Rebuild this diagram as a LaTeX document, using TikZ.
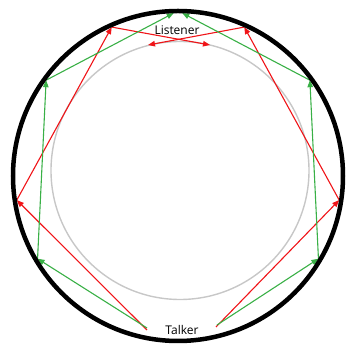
\documentclass[tikz,border=0pt]{standalone}
\usepackage{fontspec}
\setmainfont{Open Sans}
\usetikzlibrary{arrows.meta}

\definecolor{rayred}{RGB}{240,20,24}
\definecolor{raygreen}{RGB}{57,176,70}
\tikzset{
  wall/.style={line width=4.5pt, black},
  inner/.style={line width=1.4pt, black!22},
  redray/.style={line width=1.1pt, rayred, -{Triangle[length=7pt,width=5.5pt]}},
  greenray/.style={line width=1.1pt, raygreen, -{Triangle[length=7pt,width=5.5pt]}},
  label/.style={font=\fontsize{12}{14}\selectfont, text=black, inner sep=0pt}
}

\begin{document}
\begin{tikzpicture}[x=1pt,y=1pt]
        \useasboundingbox (0,0) rectangle (349,347);
        % centres
        \coordinate (O) at (178,171);
        \coordinate (G) at (180,176.5);
        % talker and listener points
        \coordinate (TRl) at (147,17);
        \coordinate (TGl) at (147,19);
        \coordinate (TRr) at (216,20);
        \coordinate (TGr) at (217,22);
        \coordinate (LisL) at (148,302);
        \coordinate (LisR) at (210,302);
        % reflection points on the wall
        \path (O) ++(188.5:163) coordinate (RL1);
        \path (O) ++(114:163) coordinate (RL2);
        \path (O) ++(351.5:163) coordinate (RR1);
        \path (O) ++(66:163) coordinate (RR2);
        \path (O) ++(210.5:163) coordinate (GL1);
        \path (O) ++(144:163) coordinate (GL2);
        \path (O) ++(91.5:163) coordinate (GL3);
        \path (O) ++(-30.5:163) coordinate (GR1);
        \path (O) ++(36:163) coordinate (GR2);
        \path (O) ++(88.5:163) coordinate (GR3);
        % inner circle
        \draw[inner] (G) circle (129);
        % red rays
        \draw[redray] (TRl) -- (RL1);
        \draw[redray] (RL1) -- (RL2);
        \draw[redray] (RL2) -- (LisR);
        \draw[redray] (TRr) -- (RR1);
        \draw[redray] (RR1) -- (RR2);
        \draw[redray] (RR2) -- (LisL);
        % green rays
        \draw[greenray] (TGl) -- (GL1);
        \draw[greenray] (GL1) -- (GL2);
        \draw[greenray] (GL2) -- (GL3);
        \draw[greenray] (TGr) -- (GR1);
        \draw[greenray] (GR1) -- (GR2);
        \draw[greenray] (GR2) -- (GR3);
        % outer wall
        \draw[wall] (O) circle (165);
        \node[label] (talker) at (182,17) {Talker};
        \node[label] (listener) at (177,317) {Listener};
    \end{tikzpicture}
\end{document}
